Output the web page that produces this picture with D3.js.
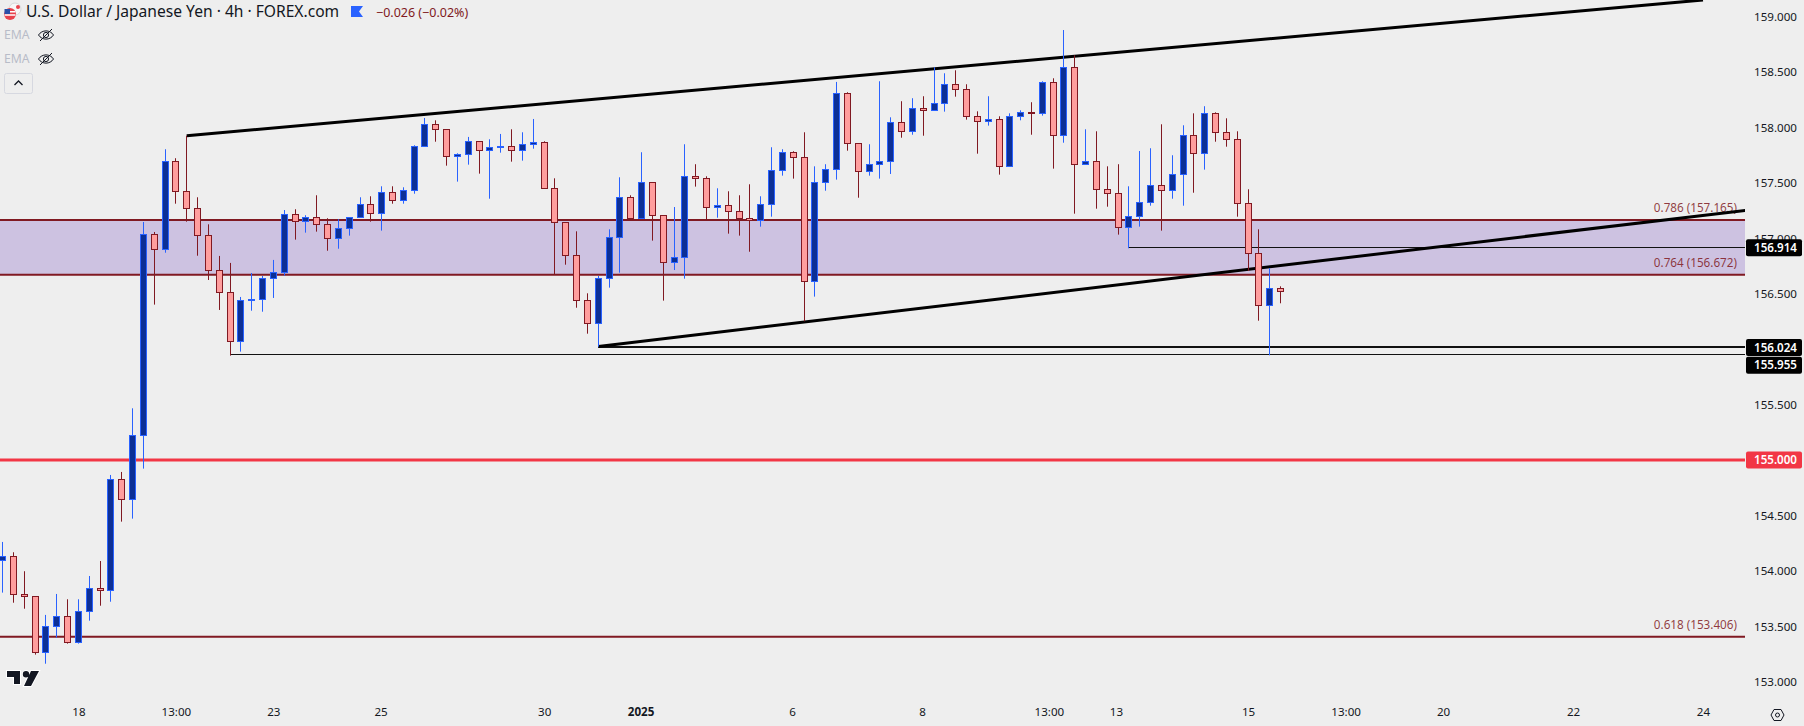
<!DOCTYPE html>
<html>
<head>
<meta charset="utf-8">
<script src="https://cdn.jsdelivr.net/npm/d3@7"></script>
<style>
  html, body { margin: 0; padding: 0; background: #eeeeee; overflow: hidden; }
  svg { display: block; }
  text { font-family: "Noto Sans", sans-serif; }
</style>
</head>
<body>
<svg class="chart"></svg>
<script>
// USD/JPY 4h candles
const candleOpen = [154.097,154.129,153.790,153.769,153.267,153.502,153.588,153.357,153.637,153.844,
  153.826,154.827,154.647,155.224,157.036,156.901,157.695,157.424,157.271,157.027,
  156.712,156.513,156.072,156.441,156.450,156.640,156.694,157.217,157.154,157.190,
  157.126,157.000,157.090,157.190,157.307,157.226,157.415,157.343,157.433,157.830,
  158.028,157.983,157.740,157.758,157.875,157.794,157.826,157.830,157.794,157.848,
  157.866,157.451,157.145,156.847,156.441,156.234,156.640,157.009,157.370,157.181,
  157.505,157.208,156.784,156.829,157.559,157.541,157.280,157.298,157.244,157.181,
  157.163,157.307,157.613,157.776,157.731,156.613,157.505,157.622,158.308,157.857,
  157.604,157.668,157.695,158.046,157.965,158.172,158.154,158.218,158.389,158.344,
  158.100,158.055,158.073,157.649,158.100,158.136,158.127,158.407,157.929,158.542,
  157.668,157.695,157.442,157.406,157.099,157.199,157.325,157.478,157.433,157.577,
  157.929,157.767,158.127,157.956,157.893,157.316,156.865,156.396,156.549];
const candleHigh = [154.262,154.169,153.998,153.769,153.604,153.793,153.745,153.745,153.955,154.090,
  154.866,154.893,155.467,157.147,157.057,157.803,157.722,157.925,157.370,157.126,
  156.841,156.778,156.471,156.687,156.660,156.805,157.255,157.262,157.208,157.388,
  157.181,157.172,157.190,157.370,157.379,157.469,157.469,157.460,157.839,158.085,
  158.064,157.983,157.767,157.914,157.875,157.893,157.941,157.983,157.956,158.076,
  157.875,157.541,157.145,157.063,156.504,156.660,157.081,157.550,157.388,157.776,
  157.505,157.208,157.282,157.848,157.668,157.559,157.451,157.424,157.388,157.487,
  157.379,157.821,157.803,157.785,157.956,157.649,157.668,158.410,158.317,157.857,
  157.848,158.416,158.091,158.236,158.263,158.281,158.542,158.488,158.515,158.389,
  158.145,158.281,158.100,158.127,158.154,158.227,158.416,158.443,158.878,158.650,
  157.983,157.965,157.649,157.668,157.469,157.787,157.812,158.028,157.749,158.019,
  158.127,158.191,158.136,158.082,157.965,157.442,157.081,156.730,156.567];
const candleLow = [153.805,153.714,153.660,153.246,153.164,153.399,153.345,153.345,153.552,153.687,
  153.723,154.445,154.472,154.923,156.402,156.870,157.312,157.150,156.843,156.624,
  156.354,155.942,155.978,156.347,156.338,156.462,156.663,156.988,157.051,157.060,
  156.888,156.906,157.024,157.190,157.150,157.069,157.312,157.312,157.402,157.830,
  157.871,157.655,157.511,157.664,157.583,157.357,157.772,157.691,157.700,157.808,
  157.451,156.676,156.762,156.374,156.140,156.023,156.555,156.690,157.181,157.181,
  156.979,156.438,156.714,156.636,157.466,157.172,157.186,157.042,157.024,156.879,
  157.105,157.195,157.565,157.538,156.252,156.474,157.429,157.529,157.790,157.366,
  157.565,157.538,157.580,157.907,157.934,157.925,158.154,158.142,158.277,158.070,
  157.763,158.016,157.574,157.649,158.064,157.934,158.106,157.628,157.862,157.222,
  157.668,157.267,157.285,157.033,156.910,157.105,157.294,157.069,157.357,157.294,
  157.411,157.619,157.871,157.826,157.195,156.705,156.257,155.945,156.414];
const candleClose = [154.129,153.790,153.772,153.267,153.498,153.588,153.357,153.633,153.841,153.826,
  154.827,154.647,155.224,157.036,156.901,157.695,157.424,157.271,157.027,156.712,
  156.513,156.072,156.441,156.450,156.640,156.694,157.217,157.154,157.190,157.126,
  157.000,157.090,157.190,157.307,157.226,157.415,157.343,157.433,157.830,158.028,
  157.983,157.740,157.758,157.875,157.794,157.821,157.830,157.794,157.848,157.866,
  157.451,157.145,156.847,156.441,156.234,156.640,157.009,157.370,157.181,157.505,
  157.208,156.784,156.829,157.559,157.541,157.280,157.298,157.244,157.181,157.163,
  157.307,157.613,157.776,157.731,156.613,157.505,157.622,158.308,157.857,157.604,
  157.668,157.695,158.046,157.965,158.172,158.154,158.218,158.389,158.344,158.100,
  158.055,158.073,157.649,158.100,158.136,158.127,158.407,157.929,158.542,157.668,
  157.695,157.442,157.406,157.099,157.199,157.325,157.478,157.433,157.577,157.929,
  157.767,158.127,157.956,157.893,157.316,156.865,156.396,156.549,156.522];

const priceTicks = [153,153.5,154,154.5,155,155.5,156,156.5,157,157.5,158,158.5,159];
// x axis labels sit on candle indexes, some fall in the empty space after the last candle
const timeTickIndex = [7,16,25,34.9,50,58.9,72.9,84.9,96.6,102.8,115,124,133,145,157];
const timeTickLabel = ["18","13:00","23","25","30","2025","6","8","13:00","13","15","13:00","20","22","24"];

const fibPrice = [157.165,156.672,153.406];
const fibRatio = ["0.786","0.764","0.618"];

const trendIndex = [[17,157],[55,161]];
const trendPrice = [[157.925,159.149],[156.024,157.253]];

const markerStart = [104,55,21];
const markerPrice = [156.914,156.024,155.955];
const markerWidth = [1,2,1];
const markerLabelShift = [0,1,11];

const roundLevel = 155.000;

var width = 1804, height = 726, paneRight = 1745, paneBottom = 699;

var upFill = "#0c2f96", upLine = "#2962ff", downFill = "#ff9e9e", downLine = "#801922";

var svg = d3.select("svg.chart").attr("width", width).attr("height", height);

var x = d3.scaleLinear().domain([0, 118]).range([2.6, 1280.6]);
var y = d3.scaleLinear().domain([153, 159]).range([681.9, 16.5]);

var candles = candleOpen.map((o, i) => ({
  i: i, o: o, h: candleHigh[i], l: candleLow[i], c: candleClose[i], up: candleClose[i] >= o
}));

function px(v) { return Math.floor(v) + 0.5; }

svg.append("defs").append("clipPath").attr("id", "pane")
  .append("rect").attr("width", paneRight).attr("height", paneBottom);

var pane = svg.append("g").attr("clip-path", "url(#pane)");

// fib zone
pane.append("rect")
  .attr("x", 0).attr("width", paneRight)
  .attr("y", y(fibPrice[0])).attr("height", y(fibPrice[1]) - y(fibPrice[0]))
  .attr("fill", "#cdc2e1");

pane.selectAll("line.fib").data(fibPrice).join("line")
  .attr("class", "fib")
  .attr("x1", 0).attr("x2", paneRight)
  .attr("y1", d => y(d)).attr("y2", d => y(d))
  .attr("stroke", downLine).attr("stroke-width", 2);

pane.selectAll("text.fib").data(fibPrice).join("text")
  .attr("class", "fib")
  .attr("x", 1737)
  .attr("y", d => y(d) - 12)
  .attr("dy", "0.35em")
  .attr("text-anchor", "end")
  .attr("font-size", 11.7)
  .attr("fill", downLine)
  .attr("fill-opacity", 0.85)
  .text((d, i) => `${fibRatio[i]} (${d3.format(".3f")(d)})`);

// horizontal markers
pane.selectAll("line.marker").data(markerPrice).join("line")
  .attr("class", "marker")
  .attr("x1", (d, i) => x(markerStart[i])).attr("x2", paneRight)
  .attr("y1", (d, i) => markerWidth[i] == 2 ? Math.round(y(d)) : px(y(d)))
  .attr("y2", (d, i) => markerWidth[i] == 2 ? Math.round(y(d)) : px(y(d)))
  .attr("stroke", "#111111")
  .attr("stroke-width", (d, i) => markerWidth[i]);

pane.append("line")
  .attr("x1", 0).attr("x2", paneRight)
  .attr("y1", y(roundLevel)).attr("y2", y(roundLevel))
  .attr("stroke", "#f23645").attr("stroke-width", 3);

// trend lines
trendIndex.forEach(function(t, k) {
  pane.append("line")
    .attr("x1", x(t[0])).attr("x2", x(t[1]))
    .attr("y1", y(trendPrice[k][0])).attr("y2", y(trendPrice[k][1]))
    .attr("stroke", "#000000").attr("stroke-width", 3);
});

// candles
var candle = pane.selectAll("g.candle").data(candles).join("g").attr("class", "candle");

candle.append("line")
  .attr("x1", d => px(x(d.i))).attr("x2", d => px(x(d.i)))
  .attr("y1", d => y(d.h)).attr("y2", d => y(d.l))
  .attr("stroke", d => d.up ? upLine : downLine);

candle.append("rect")
  .attr("x", d => px(x(d.i)) - 3)
  .attr("width", 6)
  .attr("y", d => px(y(Math.max(d.o, d.c))))
  .attr("height", d => Math.max(1, px(y(Math.min(d.o, d.c))) - px(y(Math.max(d.o, d.c)))))
  .attr("fill", d => d.up ? upFill : downFill)
  .attr("stroke", d => d.up ? upLine : downLine);

// price axis
var yAxis = svg.append("g")
  .attr("transform", `translate(${paneRight + 9},0)`)
  .call(d3.axisRight(y).tickValues(priceTicks).tickSize(0).tickPadding(0).tickFormat(d3.format(".3f")));
yAxis.select(".domain").remove();
yAxis.selectAll("text").attr("font-size", 11.6).attr("fill", "#131722");

// time axis
var xAxis = svg.append("g")
  .attr("transform", `translate(0,${paneBottom})`)
  .call(d3.axisBottom(x).tickValues(timeTickIndex).tickSize(0).tickPadding(9)
    .tickFormat((d, i) => timeTickLabel[i]));
xAxis.select(".domain").remove();
xAxis.selectAll("text")
  .attr("font-size", 11.6)
  .attr("fill", "#131722")
  .attr("font-weight", (d, i) => timeTickLabel[i] == "2025" ? 700 : 400);

// price tags on the axis
function priceTag(value, yPos, fill) {
  var g = svg.append("g").attr("transform", `translate(${paneRight + 1},${yPos})`);
  g.append("rect").attr("y", -8.5).attr("width", 56).attr("height", 17).attr("rx", 2).attr("fill", fill);
  g.append("text").attr("x", 8).attr("dy", "0.36em").attr("font-size", 11.6)
    .attr("font-weight", 600).attr("fill", "#ffffff").text(d3.format(".3f")(value));
}
markerPrice.forEach((p, i) => priceTag(p, y(p) + markerLabelShift[i], "#000000"));
priceTag(roundLevel, y(roundLevel), "#f23645");

// header
var head = svg.append("g");
head.append("circle").attr("cx", 15).attr("cy", 9).attr("r", 6).attr("fill", "#f7f7f7").attr("stroke", "#d8d8d8");
head.append("circle").attr("cx", 18).attr("cy", 7).attr("r", 2).attr("fill", "#e8424c");
head.append("circle").attr("cx", 10).attr("cy", 14).attr("r", 6).attr("fill", "#e8424c");
head.append("path").attr("d", "M4.6 11h10.8v1.6H4.6zM4.6 14.2h10.8v1.6H4.6z").attr("fill", "#ffffff");
head.append("rect").attr("x", 4.5).attr("y", 9).attr("width", 5.5).attr("height", 5).attr("fill", "#2a4fa8");

head.append("text").attr("x", 26).attr("y", 17).attr("font-size", 15.6)
  .attr("fill", "#131722").text("U.S. Dollar / Japanese Yen · 4h · FOREX.com");
head.append("path").attr("d", "M351 6h12l-4 5.5 4 5.5h-12z").attr("fill", "#2962ff");
head.append("text").attr("x", 376).attr("y", 16.5).attr("font-size", 12.5)
  .attr("fill", downLine).text("−0.026 (−0.02%)");

[35, 59].forEach(function(cy) {
  var g = head.append("g").attr("transform", `translate(46,${cy})`);
  g.append("text").attr("x", -42).attr("dy", "0.36em").attr("font-size", 12.2).attr("fill", "#b8bcc8").text("EMA");
  g.append("path").attr("d", "M-7.5 0C-4-5.5 4-5.5 7.5 0C4 5.5-4 5.5-7.5 0Z").attr("fill", "none").attr("stroke", "#131722");
  g.append("circle").attr("r", 2.6).attr("fill", "none").attr("stroke", "#131722");
  g.append("line").attr("x1", -6).attr("y1", 6).attr("x2", 6).attr("y2", -6).attr("stroke", "#131722");
});

head.append("rect").attr("x", 4.5).attr("y", 73.5).attr("width", 28).attr("height", 20).attr("rx", 2)
  .attr("fill", "none").attr("stroke", "#d6d8e0");
head.append("path").attr("d", "M14.5 85l4-4 4 4").attr("fill", "none").attr("stroke", "#131722").attr("stroke-width", 1.3);

// tv logo
var logo = svg.append("g").attr("transform", "translate(7,671)");
logo.append("path").attr("d", "M0 0h13v13h-6V6H0zM24 0h8L24 15h-7z M19 0a3.2 3.2 0 1 1 0 6.4a3.2 3.2 0 1 1 0-6.4z")
  .attr("fill", "#131722").attr("stroke", "#ffffff").attr("stroke-width", 2).attr("paint-order", "stroke");

// settings icon
svg.append("path").attr("d", "M1771 715l3-5.5h7l3 5.5-3 5.5h-7z").attr("fill", "none").attr("stroke", "#131722");
svg.append("circle").attr("cx", 1777.5).attr("cy", 715).attr("r", 2).attr("fill", "none").attr("stroke", "#131722");
</script>
</body>
</html>
